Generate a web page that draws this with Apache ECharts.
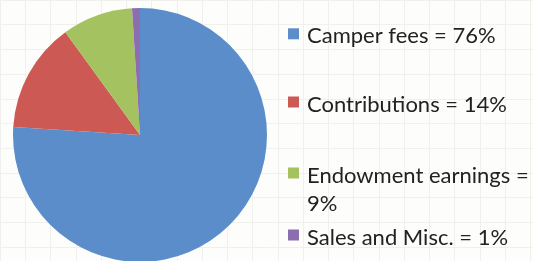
<!DOCTYPE html>
<html>
<head>
<meta charset="utf-8">
<script src="https://cdn.jsdelivr.net/npm/echarts@6/dist/echarts.min.js"></script>
<style>
  html, body { margin: 0; padding: 0; background: #fdfdfb; }
  #main { width: 533px; height: 261px; }
</style>
</head>
<body>
<div id="main"></div>
<script>
var categories = ['Camper fees', 'Contributions', 'Endowment earnings', 'Sales and Misc.'];
var shares = [76, 14, 9, 1];
var colors = ['#5a8dca', '#cd5955', '#a4c260', '#8b6db0'];

var chart = echarts.init(document.getElementById('main'));

// the spacer line pushes the text a bit below the marker's centre, like the original
var legendTops = [17.3, 85.5, 128.5, 218.5];
var legends = categories.map(function (name, i) {
    var wrap = name === 'Endowment earnings';
    return {
        data: [name],
        left: 288,
        top: legendTops[i],
        padding: 0,
        icon: 'rect',
        itemWidth: 11,
        itemHeight: 11,
        selectedMode: false,
        formatter: function (n) {
            if (wrap) return '{s2| }\n{t|' + n + ' =}\n{t|' + shares[i] + '%}';
            return '{s| }\n{t|' + n + ' = ' + shares[i] + '%}';
        },
        textStyle: {
            fontFamily: 'Lato',
            fontSize: 22,
            color: '#222',
            padding: [0, 0, 0, 3],
            rich: {
                s: { fontSize: 1, lineHeight: 5, height: 5 },
                s2: { fontSize: 1, lineHeight: 33, height: 33 },
                t: { fontFamily: 'Lato', fontSize: 22, color: '#222', lineHeight: 28 }
            }
        }
    };
});

var option = {
    backgroundColor: '#fdfdfb',
    animation: false,
    color: colors,
    grid: { left: 0, right: 0, top: -3, bottom: 0 },
    xAxis: {
        type: 'value', min: 0, max: 533, interval: 25.25,
        axisLine: { show: false }, axisTick: { show: false }, axisLabel: { show: false },
        splitLine: { lineStyle: { color: '#f0f0ed', width: 1 } }
    },
    yAxis: {
        type: 'value', inverse: true, min: 0, max: 264, interval: 25,
        axisLine: { show: false }, axisTick: { show: false }, axisLabel: { show: false },
        splitLine: { lineStyle: { color: '#f0f0ed', width: 1 } }
    },
    legend: legends,
    series: [{
        type: 'pie',
        center: [140, 135],
        radius: 127,
        startAngle: 90,
        clockwise: true,
        label: { show: false },
        labelLine: { show: false },
        emphasis: { disabled: true },
        itemStyle: { borderWidth: 0 },
        data: categories.map(function (name, i) {
            return { name: name, value: shares[i] };
        })
    }]
};
chart.setOption(option);
</script>
</body>
</html>
